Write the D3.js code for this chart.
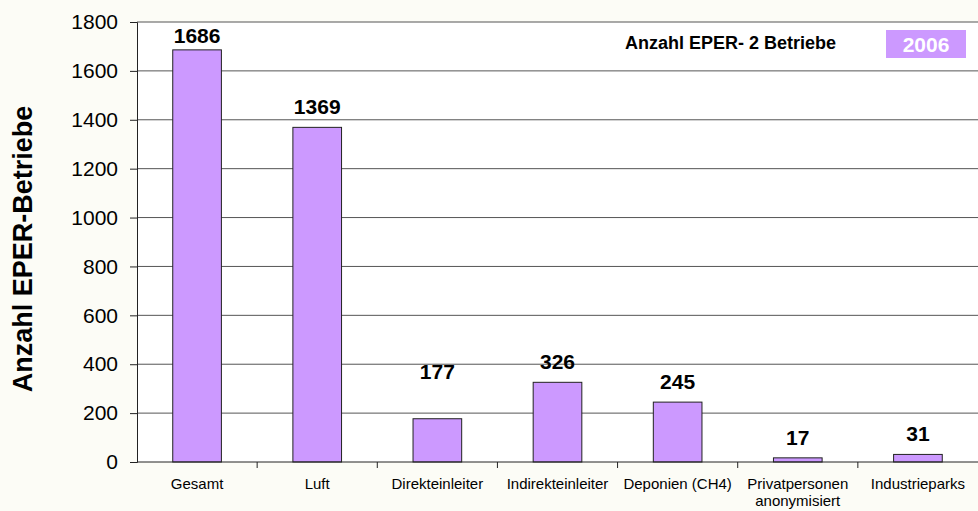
<!DOCTYPE html>
<html><head><meta charset="utf-8">
<script src="https://cdn.jsdelivr.net/npm/d3@7"></script>
<style>html,body{margin:0;padding:0;background:#fcfcf6;}svg{display:block;font-family:"Liberation Sans",Arial,sans-serif;}</style>
</head><body>
<script>
const categories = ["Gesamt","Luft","Direkteinleiter","Indirekteinleiter","Deponien (CH4)","Privatpersonen\nanonymisiert","Industrieparks"];
const values = [1686,1369,177,326,245,17,31];
const yTicks = [0,200,400,600,800,1000,1200,1400,1600,1800];
const legendTitle = "Anzahl EPER- 2 Betriebe";
const yearLabel = "2006";
const yAxisTitle = "Anzahl EPER-Betriebe";
const labelNudge = {"Gesamt": 6, "Direkteinleiter": -27};

const W=978,H=511;
const m={left:137,right:0,top:22,bottom:49};
const svg=d3.select("body").append("svg").attr("width",W).attr("height",H);
svg.append("rect").attr("width",W).attr("height",H).attr("fill","#fcfcf6");
const x=d3.scaleBand().domain(categories).range([m.left,W-m.right]);
const y=d3.scaleLinear().domain([0,1800]).range([H-m.bottom,m.top]);
svg.append("rect").attr("x",m.left).attr("y",m.top).attr("width",W-m.left-m.right).attr("height",H-m.top-m.bottom).attr("fill","#ffffff");
// gridlines
svg.append("g").selectAll("line").data(yTicks.filter(d=>d>0)).join("line")
 .attr("x1",m.left).attr("x2",W-m.right).attr("y1",d=>y(d)).attr("y2",d=>y(d))
 .attr("stroke","#555").attr("stroke-width",1);
// y axis
const ya=svg.append("g").attr("transform",`translate(${m.left},0)`).call(d3.axisLeft(y).tickValues(yTicks).tickSize(7).tickPadding(12).tickFormat(d3.format("d")));
ya.select(".domain").attr("stroke","#222");
ya.selectAll(".tick line").attr("stroke","#222");
ya.selectAll("text").attr("font-size",21).attr("fill","#000").style("font-family","Liberation Sans, Arial, sans-serif");
// bars
const bw=x.bandwidth()*0.405;
svg.append("g").selectAll("rect").data(values).join("rect")
 .attr("x",(d,i)=>x(categories[i])+x.bandwidth()/2-bw/2).attr("width",bw)
 .attr("y",d=>y(d)).attr("height",d=>y(0)-y(d))
 .attr("fill","#cc99ff").attr("stroke","#222").attr("stroke-width",1);
// x axis
const xa=svg.append("g").attr("transform",`translate(0,${y(0)})`);
xa.append("line").attr("x1",m.left).attr("x2",W).attr("stroke","#222");
xa.selectAll("line.t").data(categories.slice(1)).join("line").attr("class","t")
 .attr("x1",d=>x(d)).attr("x2",d=>x(d)).attr("y1",0).attr("y2",6).attr("stroke","#222");
categories.forEach(c=>{
  const lines=c.split("\n");
  const t=xa.append("text").attr("x",x(c)+x.bandwidth()/2).attr("y",27).attr("text-anchor","middle").attr("font-size",15).attr("fill","#000");
  lines.forEach((l,j)=>t.append("tspan").attr("x",x(c)+x.bandwidth()/2).attr("dy",j?17:0).text(l));
});
// value labels
svg.append("g").selectAll("text").data(values).join("text")
 .attr("x",(d,i)=>x(categories[i])+x.bandwidth()/2)
 .attr("y",(d,i)=>y(d)-13+(labelNudge[categories[i]]||0))
 .attr("text-anchor","middle").attr("font-size",21).attr("font-weight","bold").attr("fill","#000").text(d=>d);
// y title
svg.append("text").attr("transform","translate(32,249) rotate(-90)").attr("text-anchor","middle")
 .attr("font-size",27).attr("font-weight","bold").attr("fill","#000").text(yAxisTitle);
// legend
svg.append("text").attr("x",625).attr("y",49).attr("text-anchor","start").attr("font-size",18).attr("font-weight","bold").attr("fill","#000").text(legendTitle);
svg.append("rect").attr("x",886).attr("y",30).attr("width",80).attr("height",28).attr("fill","#cc99ff");
svg.append("text").attr("x",926).attr("y",52).attr("text-anchor","middle").attr("font-size",21).attr("font-weight","bold").attr("fill","#fff").text(yearLabel);
</script>
</body></html>
